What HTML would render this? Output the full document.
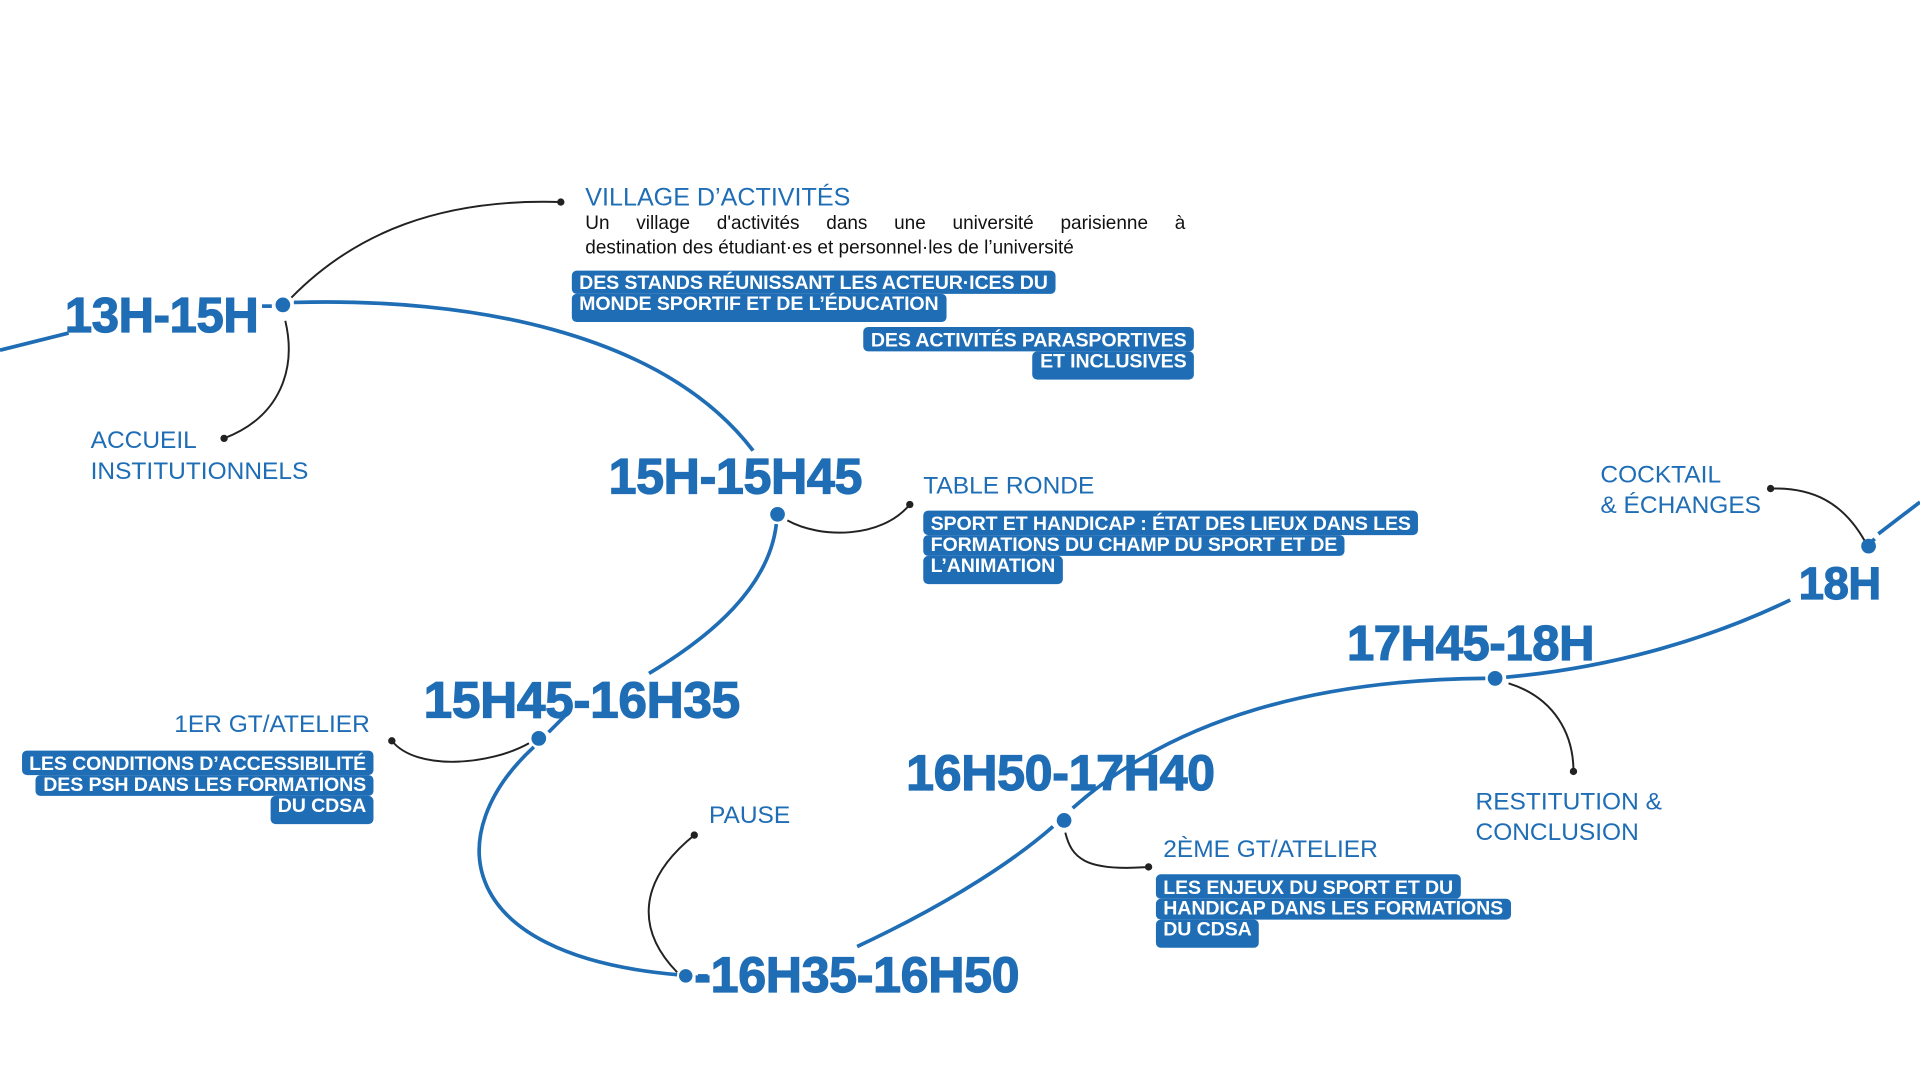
<!DOCTYPE html>
<html><head><meta charset="utf-8">
<style>
html,body{margin:0;padding:0;background:#fff;width:1920px;height:1080px;overflow:hidden}
#s{position:absolute;left:0;top:0;width:1568px;height:882px;transform:scale(1.22449);transform-origin:0 0;font-family:"Liberation Sans",sans-serif}
.t{position:absolute;color:#1e6db5;font-weight:900;white-space:nowrap;letter-spacing:-0.3px;line-height:1;-webkit-text-stroke:1px #1e6db5}
.l{position:absolute;color:#1e6db5;font-size:20px;line-height:25px;white-space:nowrap;letter-spacing:0}
.b{position:absolute;font-weight:bold;font-size:16px;line-height:17px;color:#fff;white-space:nowrap;letter-spacing:-0.1px}
.b div span{background:#1e6db5;display:inline-block;padding:0 6px;border-radius:4px}
.r{text-align:right}
svg{position:absolute;left:0;top:0}
</style></head><body><div id="s">
<svg width="1568" height="882" viewBox="0 0 1568 882">
<g fill="none" stroke="#1e6db5" stroke-width="3">
<path d="M0 286 L56 272"/>
<path d="M214 250 L222 250"/>
<path d="M240 247 C380 243 540 270 615 368"/>
<path d="M634 428 C628 480 580 520 530 550"/>
<path d="M463 583 L448 598"/>
<path d="M436 610 C360 680 370 780 553 796"/>
<path d="M570 797 L578 797"/>
<path d="M700 773 C760 745 820 710 860 675"/>
<path d="M876 660 C960 585 1080 555 1213 554"/>
<path d="M1230 553 C1320 545 1400 520 1462 490"/>
<path d="M1525 446 L1531 440"/>
<path d="M1534 436 L1568 410"/>
</g>
<g fill="none" stroke="#222" stroke-width="1.6">
<path d="M238 243 C290 190 360 162 458 165"/>
<path d="M233 262 C242 300 230 340 183 358"/>
<path d="M643 425 C670 440 720 440 743 412"/>
<path d="M432 607 C400 625 340 630 320 605"/>
<path d="M553 794 C520 760 520 720 567 682"/>
<path d="M870 680 C875 700 885 712 938 708"/>
<path d="M1232 558 C1270 570 1285 600 1285 630"/>
<path d="M1523 442 C1505 410 1480 398 1446 399"/>
</g>
<g fill="#1e6db5">
<circle cx="231" cy="249" r="6"/><circle cx="635" cy="420" r="6"/><circle cx="440" cy="603" r="6"/>
<circle cx="560" cy="797" r="5.5"/><circle cx="869" cy="670" r="6"/><circle cx="1221" cy="554" r="6"/><circle cx="1526" cy="446" r="6"/>
</g>
<g fill="#222"><circle cx="458" cy="165" r="3"/><circle cx="183" cy="358" r="3"/><circle cx="743" cy="412" r="3"/><circle cx="320" cy="605" r="3"/><circle cx="567" cy="682" r="3"/><circle cx="938" cy="708" r="3"/><circle cx="1285" cy="630" r="3"/><circle cx="1446" cy="399" r="3"/></g>
</svg>

<div class="t" style="left:53px;top:238px;font-size:40px">13H-15H</div>
<div class="t" style="left:497px;top:369px;font-size:41px">15H-15H45</div>
<div class="t" style="left:346px;top:551px;font-size:42px">15H45-16H35</div>
<div class="t" style="left:740px;top:611px;font-size:41px">16H50-17H40</div>
<div class="t" style="left:567px;top:776px;font-size:41px">-16H35-16H50</div>
<div class="t" style="left:1100px;top:506px;font-size:40px">17H45-18H</div>
<div class="t" style="left:1469px;top:458px;font-size:37px">18H</div>

<div class="l" style="left:478px;top:149px;font-size:20.5px">VILLAGE D’ACTIVITÉS</div>
<div style="position:absolute;left:478px;top:173px;width:490px;font-size:15.5px;line-height:20px;color:#111">
<div style="text-align:justify;text-align-last:justify">Un village d'activités dans une université parisienne à</div>
<div style="letter-spacing:0px;white-space:nowrap">destination des étudiant·es et personnel·les de l’université</div></div>
<div class="l" style="left:74px;top:348px">ACCUEIL<br>INSTITUTIONNELS</div>
<div class="l" style="left:754px;top:385px">TABLE RONDE</div>
<div class="l r" style="right:1266px;top:580px">1ER GT/ATELIER</div>
<div class="l" style="left:579px;top:654px">PAUSE</div>
<div class="l" style="left:950px;top:682px">2ÈME GT/ATELIER</div>
<div class="l" style="left:1205px;top:643px">RESTITUTION &amp;<br>CONCLUSION</div>
<div class="l" style="left:1307px;top:376px">COCKTAIL<br>&amp; ÉCHANGES</div>

<div class="b" style="left:467px;top:221px"><div><span style="padding-top:2px">DES STANDS RÉUNISSANT LES ACTEUR·ICES DU</span></div><div><span style="padding-bottom:6px">MONDE SPORTIF ET DE L’ÉDUCATION</span></div></div>
<div class="b r" style="right:593px;top:267px"><div><span style="padding-top:3px">DES ACTIVITÉS PARASPORTIVES</span></div><div><span style="padding-bottom:6px">ET INCLUSIVES</span></div></div>
<div class="b" style="left:754px;top:417px"><div><span style="padding-top:3px">SPORT ET HANDICAP : ÉTAT DES LIEUX DANS LES</span></div><div><span>FORMATIONS DU CHAMP DU SPORT ET DE</span></div><div><span style="padding-bottom:6px">L’ANIMATION</span></div></div>
<div class="b r" style="right:1263px;top:613px"><div><span style="padding-top:3px">LES CONDITIONS D’ACCESSIBILITÉ</span></div><div><span>DES PSH DANS LES FORMATIONS</span></div><div><span style="padding-bottom:6px">DU CDSA</span></div></div>
<div class="b" style="left:944px;top:714px"><div><span style="padding-top:3px">LES ENJEUX DU SPORT ET DU</span></div><div><span>HANDICAP DANS LES FORMATIONS</span></div><div><span style="padding-bottom:6px">DU CDSA</span></div></div>
</div></body></html>
